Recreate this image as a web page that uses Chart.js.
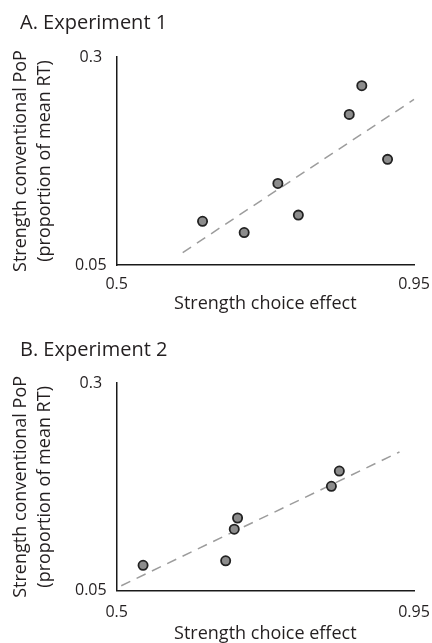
<!DOCTYPE html>
<html>
<head>
<meta charset="utf-8">
<script src="https://cdn.jsdelivr.net/npm/chart.js@4.4.1/dist/chart.umd.min.js"></script>
<style>
    body { margin: 0; background: #fff; }
    .panel { position: absolute; left: 0; width: 432px; }
</style>
</head>
<body>
<div class="panel" style="top:0; height:320px;"><canvas id="exp1Chart"></canvas></div>
<div class="panel" style="top:320px; height:323px;"><canvas id="exp2Chart"></canvas></div>
<script>
// axis ticks
const xTicks = [0.5, 0.95];
const yTicks = [0.05, 0.3];

// Experiment 1
const exp1ChoiceEffect = [0.630, 0.693, 0.744, 0.775, 0.852, 0.871, 0.910];
const exp1PoP = [0.1025, 0.089, 0.148, 0.110, 0.231, 0.2655, 0.177];
const exp1FitX = [0.600, 0.950];
const exp1FitY = [0.065, 0.249];

// Experiment 2
const exp2ChoiceEffect = [0.540, 0.665, 0.678, 0.683, 0.825, 0.837];
const exp2PoP = [0.0806, 0.086, 0.124, 0.1375, 0.1757, 0.194];
const exp2FitX = [0.507, 0.928];
const exp2FitY = [0.056, 0.217];

const FONT = "'Open Sans', sans-serif";
const TEXT_COLOR = '#231f20';

function toPoints(xs, ys) {
    return xs.map((x, i) => ({ x: x, y: ys[i] }));
}

function makeChart(canvasId, title, xs, ys, fitX, fitY, sp) {
    const ctx = document.getElementById(canvasId).getContext('2d');
    return new Chart(ctx, {
        type: 'scatter',
        data: {
            datasets: [
                {
                    label: 'Fit',
                    data: toPoints(fitX, fitY),
                    showLine: true,
                    borderColor: '#9c9c9c',
                    borderWidth: 1.5,
                    borderDash: [10, 7],
                    pointRadius: 0,
                    fill: false,
                    clip: false,
                    order: 2
                },
                {
                    label: 'Participants',
                    data: toPoints(xs, ys),
                    backgroundColor: '#8c8c8c',
                    borderColor: '#222',
                    borderWidth: 1.8,
                    pointRadius: 4.6,
                    order: 1
                }
            ]
        },
        options: {
            responsive: true,
            maintainAspectRatio: false,
            animation: false,
            layout: {
                autoPadding: false,
                padding: { left: 20, right: 18, top: 0, bottom: sp.bottom }
            },
            scales: {
                x: {
                    type: 'linear',
                    min: xTicks[0],
                    max: xTicks[xTicks.length - 1],
                    afterBuildTicks: function(scale) {
                        scale.ticks = xTicks.map(v => ({ value: v }));
                    },
                    // let the end labels hang over the side padding
                    afterFit: function(scale) {
                        scale.paddingLeft = 0;
                        scale.paddingRight = 0;
                    },
                    grid: { display: false, drawTicks: false },
                    border: { display: true, color: '#1a1a1a', width: 1.5 },
                    ticks: {
                        padding: sp.xTickPad,
                        maxRotation: 0,
                        color: TEXT_COLOR,
                        font: { family: FONT, size: 16 },
                        callback: function(value) { return String(value); }
                    },
                    title: {
                        display: true,
                        text: 'Strength choice effect',
                        color: TEXT_COLOR,
                        font: { family: FONT, size: 18 },
                        padding: { top: sp.xTitleTop, bottom: sp.xTitleBottom }
                    }
                },
                y: {
                    type: 'linear',
                    min: yTicks[0],
                    max: yTicks[yTicks.length - 1],
                    afterBuildTicks: function(scale) {
                        scale.ticks = yTicks.map(v => ({ value: v }));
                    },
                    grid: { display: false, drawTicks: false },
                    border: { display: true, color: '#1a1a1a', width: 1.5 },
                    ticks: {
                        padding: 10,
                        crossAlign: 'center',
                        color: TEXT_COLOR,
                        font: { family: FONT, size: 16 },
                        callback: function(value) { return String(value); }
                    },
                    title: {
                        display: true,
                        text: ['Strength conventional PoP', '(proportion of mean RT)'],
                        color: TEXT_COLOR,
                        font: { family: FONT, size: 18, lineHeight: 1.333 },
                        padding: { top: -11, bottom: 8 }
                    }
                }
            },
            plugins: {
                legend: { display: false },
                tooltip: { enabled: false },
                title: {
                    display: true,
                    text: title,
                    align: 'start',
                    color: TEXT_COLOR,
                    font: { family: FONT, size: 20, weight: 'normal' },
                    padding: { top: sp.titleTop, bottom: sp.titleBottom }
                }
            }
        }
    });
}

makeChart('exp1Chart', 'A. Experiment 1', exp1ChoiceEffect, exp1PoP, exp1FitX, exp1FitY,
    { titleTop: 11, titleBottom: 22, xTickPad: 10, xTitleTop: -10.8, xTitleBottom: 4, bottom: 1 });
makeChart('exp2Chart', 'B. Experiment 2', exp2ChoiceEffect, exp2PoP, exp2FitX, exp2FitY,
    { titleTop: 18, titleBottom: 21, xTickPad: 12, xTitleTop: -10.5, xTitleBottom: -2, bottom: 0 });
</script>
</body>
</html>
